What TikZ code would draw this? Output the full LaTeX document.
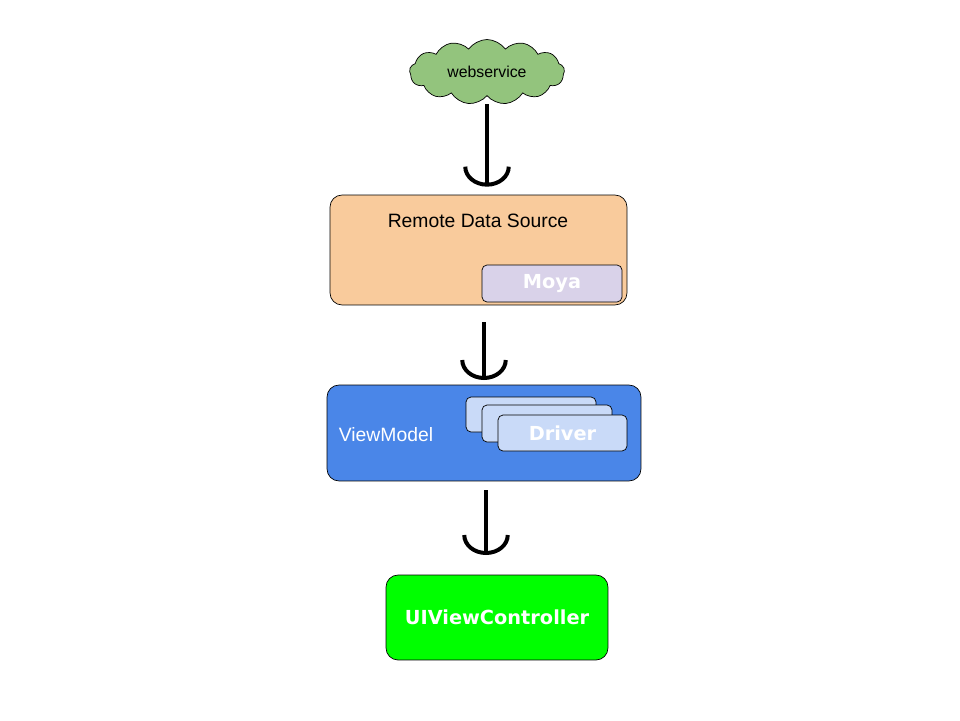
\documentclass[tikz,border=0pt]{standalone}
\usepackage{fontspec}
\setmainfont{Liberation Sans}
\newfontfamily\boldface{DejaVu Sans}
\usetikzlibrary{shapes.symbols,arrows.meta}
\definecolor{cloudgreen}{HTML}{93C47D}
\definecolor{peach}{HTML}{F9CB9C}
\definecolor{lilac}{HTML}{D9D2E9}
\definecolor{vmblue}{HTML}{4A86E8}
\definecolor{paleblue}{HTML}{C9DAF8}
\begin{document}
\begin{tikzpicture}[
  x=0.02cm, y=-0.02cm,
  box/.style={draw=black, rounded corners=0.24cm, inner sep=0pt},
  tag/.style={draw=black, rounded corners=0.1cm, inner sep=0pt, font=\boldface\bfseries\fontsize{11}{13}\selectfont, text=white},
  flow/.style={line width=0.08cm, -{Arc Barb[width=0.95cm,length=0.4cm,line width=0.08cm]}}
]
\useasboundingbox (0,0) rectangle (960,720);

% --- Cloud ---
\node[cloud, cloud puffs=13, cloud puff arc=110, aspect=2.6, draw=black, fill=cloudgreen,
  minimum width=3.1cm, minimum height=1.3cm, inner sep=0pt, font=\small] (web) at (487,72) {webservice};

% --- Remote data source ---
\node[box, fill=peach, minimum width=5.94cm, minimum height=2.2cm] (rds) at (478.5,250) {};
\node[font=\fontsize{11}{13}\selectfont] (rdslabel) at (478,221) {Remote Data Source};
\node[tag, fill=lilac, minimum width=2.8cm, minimum height=0.74cm] (moya) at (552,283.5) {Moya};

% --- ViewModel ---
\node[box, fill=vmblue, minimum width=6.28cm, minimum height=1.92cm] (vm) at (484,433) {};
\node[text=white, font=\fontsize{11}{13}\selectfont] (vmlabel) at (386,435) {ViewModel};
\node[tag, fill=paleblue, minimum width=2.6cm, minimum height=0.7cm] (drv1) at (531,414.5) {};
\node[tag, fill=paleblue, minimum width=2.6cm, minimum height=0.74cm] (drv2) at (547,423.5) {};
\node[tag, fill=paleblue, minimum width=2.58cm, minimum height=0.72cm] (drv3) at (562.5,433) {Driver};

% --- UIViewController ---
\node[box, fill=green, minimum width=4.44cm, minimum height=1.7cm, text=white,
  font=\boldface\bfseries\fontsize{11}{13}\selectfont] (uivc) at (497,617.5) {UIViewController};

% --- Arrows ---
\draw[flow, shorten <=0.16cm, shorten >=0.16cm] (web.south) -- (web.south |- rds.north);
\draw[flow, shorten <=0.34cm, shorten >=0.1cm] (484,305) -- (484,385);
\draw[flow, shorten <=0.18cm, shorten >=0.4cm] (486,481) -- (486,575);
\end{tikzpicture}
\end{document}
